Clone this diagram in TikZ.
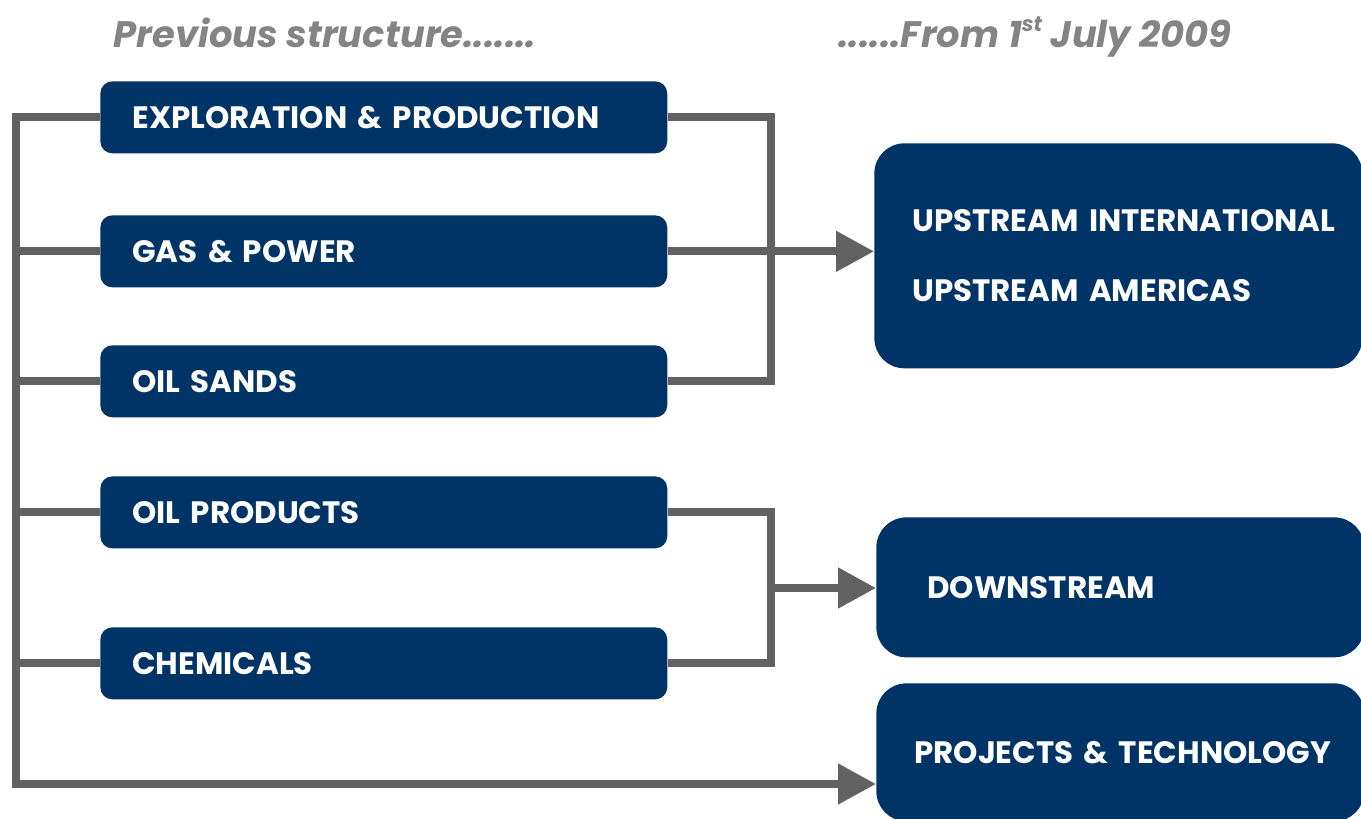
\documentclass[tikz,border=0pt]{standalone}
\usepackage{fontspec}
\setmainfont{Poppins}
\usetikzlibrary{arrows.meta,positioning}
\definecolor{shellblue}{RGB}{0,51,102}
\definecolor{linkgray}{RGB}{98,98,98}
\definecolor{titlegray}{RGB}{132,132,132}
\hyphenpenalty=10000
\exhyphenpenalty=10000

\begin{document}
\begin{tikzpicture}[x=0.02cm,y=-0.02cm,
  old/.style={fill=shellblue, text=white, rounded corners=0.24cm, anchor=north west,
    minimum width=11.34cm, minimum height=1.44cm, inner xsep=0.64cm, text width=10.06cm,
    align=left, font=\bfseries\fontsize{17.6}{20}\selectfont},
  new/.style={fill=shellblue, text=white, rounded corners=0.6cm, anchor=north west,
    minimum width=9.76cm, inner xsep=0.76cm, text width=8.24cm,
    align=left, font=\bfseries\fontsize{17.6}{20}\selectfont},
  head/.style={anchor=base, text=titlegray, font=\bfseries\itshape\fontsize{21}{25}\selectfont},
  link/.style={draw=linkgray, line width=0.16cm},
  feed/.style={link, -{Triangle[length=0.76cm,width=0.78cm]}}]
\useasboundingbox (0,0) rectangle (1361,818);

% titles
\node[head] (before) at (325,47) {Previous structure.......};
\node[head] (after) at (1035,47) {......From 1\raisebox{0.75ex}{\fontsize{12}{12}\selectfont st} July 2009};

% previous businesses
\node[old] (ep) at (100,81) {EXPLORATION \& PRODUCTION};
\node[old] (gp) at (100,215) {GAS \& POWER};
\node[old] (os) at (100,345) {OIL SANDS};
\node[old] (op) at (100,476) {OIL PRODUCTS};
\node[old] (ch) at (100,627) {CHEMICALS};

% new businesses
\node[new, minimum height=4.5cm] (us) at (874,143) {UPSTREAM~INTERNATIONAL\\[20pt]UPSTREAM~AMERICAS};
\node[new, minimum height=2.8cm, inner xsep=1.02cm, text width=7.72cm] (ds) at (876,517) {DOWNSTREAM};
\node[new, minimum height=2.76cm] (pt) at (876,683) {PROJECTS~\&~TECHNOLOGY};

\coordinate (bus) at (16,784);
\coordinate (uj) at (771,258);
\coordinate (dj) at (771,588);

% left bus
\draw[feed] (ep.west) -| (bus) -- (bus -| pt.west);
\foreach \b in {gp,os,op,ch}
  \draw[link] (\b.west) -- (\b.west -| bus);

% upstream
\draw[link] (ep.east) -| (uj) |- (os.east);
\draw[feed] (gp.east) -- (gp.east -| us.west);

% downstream
\draw[link] (op.east) -| (dj) |- (ch.east);
\draw[feed] (dj) -- (dj -| ds.west);
\end{tikzpicture}
\end{document}
